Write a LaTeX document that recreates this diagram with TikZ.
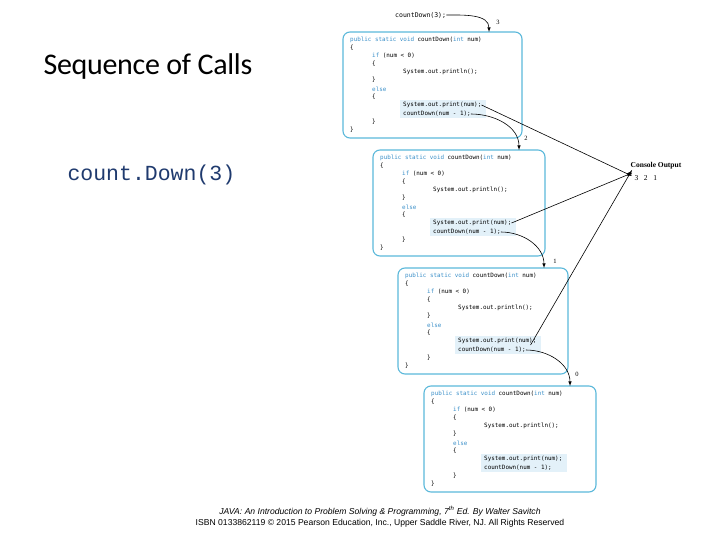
\documentclass[tikz,border=0pt]{standalone}
\usepackage{fontspec}
\setmainfont{Carlito}
\newfontfamily\codef{DejaVu Sans Mono}
\newfontfamily\cour{Liberation Mono}
\newfontfamily\arialf{Liberation Sans}
\newfontfamily\serf{Liberation Serif}
\definecolor{boxc}{HTML}{5BB8DA}
\definecolor{kw}{HTML}{3A8FC8}
\definecolor{hl}{HTML}{E3F1F9}
\definecolor{titc}{HTML}{1F3A6E}
\begin{document}
\begin{tikzpicture}[x=1pt,y=-1pt,
  code/.style={anchor=west,inner sep=0,font=\codef\fontsize{5.9}{6}\selectfont},
  box/.style={draw=boxc,line width=1.1pt,rounded corners=7pt},
  conn/.style={-latex,line width=0.6pt},
  lab/.style={font=\serf\fontsize{6.5}{7}\selectfont}]
\useasboundingbox (0,0) rectangle (720,540);
\node[anchor=west,font=\fontsize{30}{34}\selectfont\addfontfeature{LetterSpace=-1}] (title) at (40,67) {Sequence of Calls};
\node[anchor=west,font=\cour\fontsize{21.5}{24}\selectfont,text=titc] (call) at (64,175) {count.Down(3)};
\foreach \i/\dx/\dy/\w in {1/0/0/179,2/30/118/172,3/55/236/170,4/81/354/172}{
  \begin{scope}[shift={(\dx,\dy)}]
  \fill[hl] (400,100) rectangle (486,118);
  \draw[box] (343,32) rectangle ++(\w,106);
  \node[code] (h\i) at (350,40) {\textcolor{kw}{public static void} countDown(\textcolor{kw}{int} num)};
  \node[code] at (350,48) {\{};
  \node[code] at (372,56) {\textcolor{kw}{if} (num < 0)};
  \node[code] at (372,64) {\{};
  \node[code] at (403,72) {System.out.println();};
  \node[code] at (372,80) {\}};
  \node[code] at (372,89) {\textcolor{kw}{else}};
  \node[code] at (372,97) {\{};
  \node[code] (p\i) at (403,105) {System.out.print(num);};
  \node[code] (c\i) at (403,114) {countDown(num - 1);};
  \node[code] at (372,122) {\}};
  \node[code] at (350,130) {\}};
  \coordinate (top\i) at (489,32);
  \end{scope}
}
\node[code,font=\codef\fontsize{6.5}{7}\selectfont] (cd3) at (395,15) {countDown(3);};
\node[font=\serf\bfseries\fontsize{7.5}{8}\selectfont] (co) at (656,166) {Console Output};
\node[font=\serf\fontsize{7.5}{8}\selectfont,anchor=west] (out) at (631,178) {3\ \ \ 2\ \ \ 1};
\coordinate (tgt) at (632,176);
\draw[conn] (cd3.east) to[out=0,in=90] (top1);
\draw[conn] (c1.east) to[out=0,in=90] (top2);
\draw[conn] (c2.east) to[out=0,in=90] (top3);
\draw[conn] (c3.east) to[out=0,in=90] (top4);
\node[lab] (l3) at (498,22) {3};
\node[lab] (l2) at (526,138) {2};
\node[lab] (l1) at (555,261) {1};
\node[lab] (l0) at (577,374) {0};
\draw[conn] (p1.east) -- (tgt);
\draw[conn] (p2.east) -- ([yshift=3]tgt);
\draw[conn] ([xshift=-6,yshift=-4]p3.east) -- ([yshift=6]tgt);
\node[font=\arialf\itshape\fontsize{8.6}{9}\selectfont] (ref1) at (380,511) {JAVA: An Introduction to Problem Solving \& Programming, 7\textsuperscript{th} Ed. By Walter Savitch};
\node[font=\arialf\fontsize{8.6}{9}\selectfont] (ref2) at (380,523) {ISBN 0133862119 \textcopyright{} 2015 Pearson Education, Inc., Upper Saddle River, NJ. All Rights Reserved};
\end{tikzpicture}
\end{document}
